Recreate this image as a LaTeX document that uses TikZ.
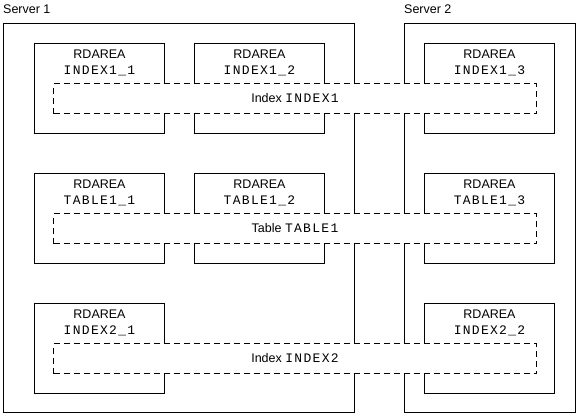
\documentclass[tikz,border=0pt]{standalone}
\usepackage{fontspec}
\setmainfont{Liberation Sans}
\newfontfamily\spmono[LetterSpace=10]{Liberation Mono}
\begin{document}
\begin{tikzpicture}[x=1pt,y=-1pt,
  box/.style={draw, line width=1pt, inner sep=0pt, anchor=north west},
  srv/.style={box, minimum height=389pt},
  area/.style={box, minimum width=130pt, minimum height=90pt},
  span/.style={draw, dash pattern=on 6pt off 4pt, line width=1pt, fill=white, inner sep=0pt, anchor=north west, minimum width=483pt, minimum height=30pt},
  sf/.style={inner sep=0pt, font=\fontsize{12.5}{14}\selectfont},
  tt/.style={inner sep=0pt, font=\fontsize{13}{15}\selectfont\spmono},
  lbl/.style={inner sep=0pt, font=\fontsize{12.5}{14}\selectfont},
]
\useasboundingbox (0,0) rectangle (578,416);
% servers
\node[srv, minimum width=351pt] (s1) at (3,23) {};
\node[srv, minimum width=171pt] (s2) at (404,23) {};
\node[sf, anchor=base west] (s1l) at ([yshift=10pt]s1.north west) {Server 1};
\node[sf, anchor=base west] (s2l) at ([yshift=10pt]s2.north west) {Server 2};
% rdareas
\foreach \nm/\x/\y/\t in {a11/34/43/INDEX1\_1, a12/194/43/INDEX1\_2, a13/424/43/INDEX1\_3,
                          b11/34/173/TABLE1\_1, b12/194/173/TABLE1\_2, b13/424/173/TABLE1\_3,
                          c21/34/303/INDEX2\_1, c22/424/303/INDEX2\_2}{
  \node[area] (\nm) at (\x,\y) {};
  \node[sf, anchor=base] (\nm r) at ([yshift=-15pt]\nm.north) {RDAREA};
  \node[tt, anchor=base] (\nm t) at ([yshift=-31pt]\nm.north) {\t};
}
% spanning objects
\node[span] (ix1) at (53,83) {};
\node[span] (tb1) at (53,213) {};
\node[span] (ix2) at (53,343) {};
\node[lbl, anchor=center] (ix1l) at (ix1.center) {Index {\fontsize{13}{15}\selectfont\spmono INDEX1}};
\node[lbl, anchor=center] (tb1l) at (tb1.center) {Table {\fontsize{13}{15}\selectfont\spmono TABLE1}};
\node[lbl, anchor=center] (ix2l) at (ix2.center) {Index {\fontsize{13}{15}\selectfont\spmono INDEX2}};
\end{tikzpicture}
\end{document}
